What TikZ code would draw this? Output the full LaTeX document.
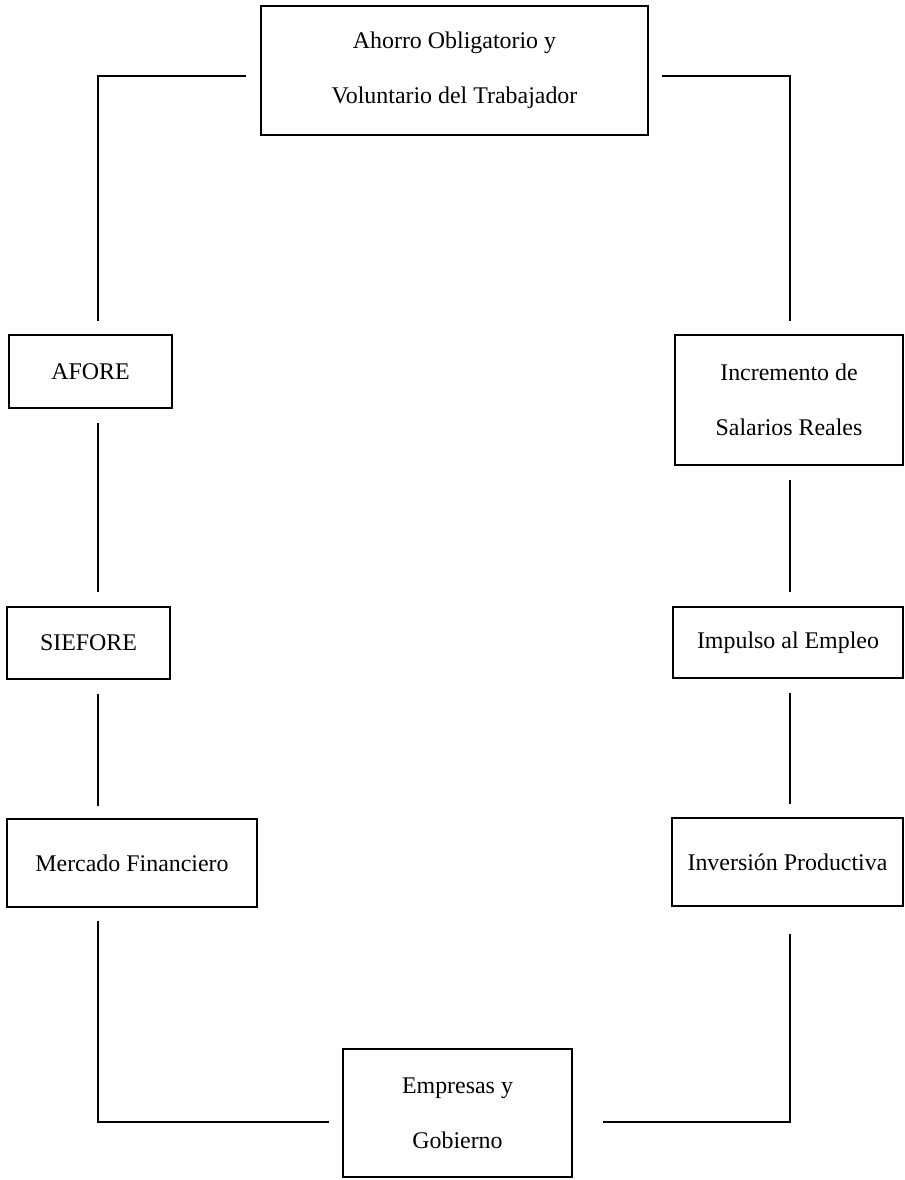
\documentclass[tikz,border=0pt]{standalone}
\usepackage{fontspec}
\setmainfont{Liberation Serif}
\begin{document}
\begin{tikzpicture}[x=1bp,y=-1bp,
  box/.style={draw, line width=2bp, inner sep=0pt, align=center,
    font=\fontsize{24}{55}\selectfont},
  conn/.style={draw, line width=1.8bp}]
\useasboundingbox (0,0) rectangle (905,1180);
\fill[white] (0,0) rectangle (905,1180);
% boxes
\node[box, minimum width=387bp, minimum height=129bp] (top) at (454.5,70.5)
  {Ahorro Obligatorio y\\Voluntario del Trabajador};
\node[box, minimum width=163bp, minimum height=73bp] (afore) at (90.5,371.5) {AFORE};
\node[box, minimum width=163bp, minimum height=72bp] (siefore) at (88.5,643) {SIEFORE};
\node[box, minimum width=250bp, minimum height=88bp] (mercado) at (132,863) {Mercado Financiero};
\node[box, minimum width=229bp, minimum height=128bp] (empresas) at (457.5,1113)
  {Empresas y\\Gobierno};
\node[box, minimum width=228bp, minimum height=130bp] (incremento) at (789,400)
  {Incremento de\\Salarios Reales};
\node[box, minimum width=230bp, minimum height=71bp] (impulso) at (788,642.5) {Impulso al Empleo};
\node[box, minimum width=231bp, minimum height=88bp] (inversion) at (787.5,862) {Inversión Productiva};
% reference lines
\coordinate (xl) at (98,0);
\coordinate (xr) at (790,0);
\coordinate (yt) at (0,76);
\coordinate (yb) at (0,1122);
% connectors
\draw[conn, shorten <=14bp, shorten >=13bp] (top.west |- yt) -| (afore.north -| xl);
\draw[conn, shorten <=14bp, shorten >=14bp] (afore.south -| xl) -- (siefore.north -| xl);
\draw[conn, shorten <=14bp, shorten >=12bp] (siefore.south -| xl) -- (mercado.north -| xl);
\draw[conn, shorten <=13bp, shorten >=13bp] (mercado.south -| xl) |- (empresas.west |- yb);
\draw[conn, shorten <=30bp, shorten >=27bp] (empresas.east |- yb) -| (inversion.south -| xr);
\draw[conn, shorten <=13bp, shorten >=14bp] (inversion.north -| xr) -- (impulso.south -| xr);
\draw[conn, shorten <=14bp, shorten >=14bp] (impulso.north -| xr) -- (incremento.south -| xr);
\draw[conn, shorten <=13bp, shorten >=13bp] (incremento.north -| xr) |- (top.east |- yt);
\end{tikzpicture}
\end{document}
